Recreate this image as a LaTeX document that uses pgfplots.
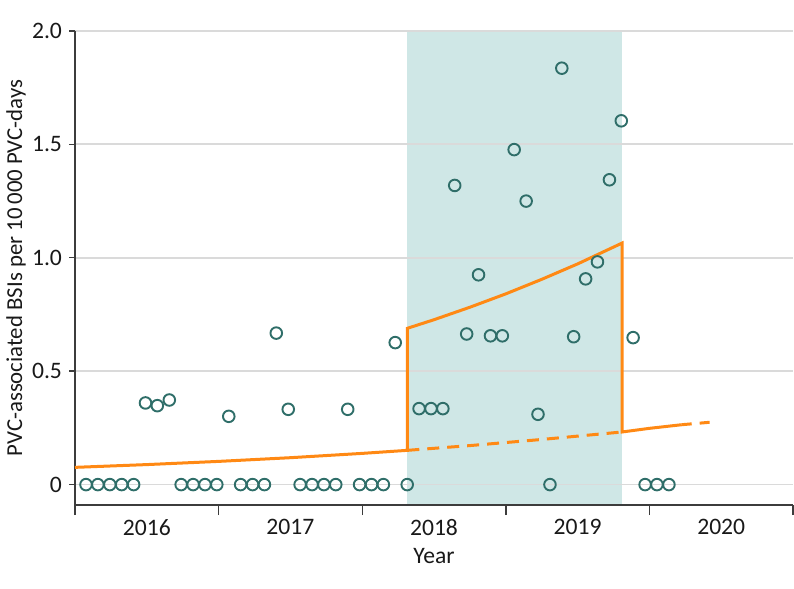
\documentclass[border=0pt]{standalone}
\usepackage{pgfplots}
\pgfplotsset{compat=1.18}
\usepackage{fontspec}
\setmainfont{Carlito}
\usetikzlibrary{calc}
\definecolor{shade}{RGB}{207,231,230}
\definecolor{teal}{RGB}{47,110,105}
\definecolor{orng}{RGB}{255,137,20}
\definecolor{gridc}{RGB}{218,218,218}
\definecolor{axc}{RGB}{60,60,60}
\begin{document}
\begin{tikzpicture}
\begin{axis}[
  set layers,
  scale only axis,
  width=359pt, height=237pt,
  xmin=0, xmax=60, ymin=-0.09, ymax=2.0,
  axis x line=bottom, axis y line=left,
  axis line style={-, draw=axc, line width=0.7pt},
  xtick={6,18,30,42,54},
  xticklabels={2016,2017,2018,2019,2020},
  xtick style={draw=none},
  extra x ticks={0,12,24,36,48,60},
  extra x tick labels={},
  extra x tick style={major tick length=5pt, xtick style={draw=axc, line width=0.7pt}},
  major tick length=3pt,
  ytick={0,0.5,1,1.5,2},
  yticklabels={0,0.5,1.0,1.5,2.0},
  ytick style={draw=axc, line width=0.7pt},
  tick align=outside,
  ymajorgrids=true,
  grid style={draw=gridc, line width=0.9pt},
  /pgf/number format/assume math mode=true,
  tick label style={font=\fontsize{11.8}{14}\selectfont, text=black!90},
  xticklabel style={yshift=-0.5pt},
  xlabel={Year},
  ylabel={PVC-associated BSIs per 10\,000 PVC-days},
  label style={font=\fontsize{11.8}{14}\selectfont, text=black!90},
  xlabel style={yshift=8.5pt},
  ylabel style={at={(axis description cs:-0.082,0.5)}, anchor=center, font=\fontsize{11.4}{14}\selectfont},
  clip=false,
]
\addplot[on layer=axis background, fill=shade, draw=none] coordinates {(27.77,-0.09) (45.72,-0.09) (45.72,2.0) (27.77,2.0)} -- cycle;

% fitted lines
\addplot[orng, line width=1.5pt, line join=miter] coordinates {
(0,0.076) (6,0.0882) (12,0.1023) (18,0.1186) (24,0.1376) (27.77,0.151)
(27.77,0.689) (30,0.727) (33,0.782) (36,0.841) (39,0.905) (42,0.973) (45.72,1.065)
(45.72,0.232) (48,0.248) (50.7,0.264)};
\addplot[orng, line width=1.5pt, dash pattern=on 6pt off 4pt] coordinates {
(27.77,0.151) (33,0.172) (39,0.199) (45.72,0.232)};
\addplot[orng, line width=1.5pt, dash pattern=on 5pt off 4pt] coordinates {
(50.7,0.264) (53.3,0.276)};

\addplot[only marks, mark=o, mark size=2.9pt, mark options={draw=teal, line width=0.95pt}] coordinates {
(0.92,0) (1.91,0) (2.91,0) (3.90,0) (4.90,0) (5.89,0.36) (6.88,0.348) (7.88,0.373)
(8.87,0) (9.87,0) (10.86,0) (11.85,0) (12.85,0.301) (13.84,0) (14.84,0) (15.83,0)
(16.82,0.668) (17.82,0.332) (18.81,0) (19.81,0) (20.80,0) (21.79,0) (22.79,0.332)
(23.78,0) (24.78,0) (25.77,0) (26.76,0.626) (27.76,0) (28.75,0.335) (29.75,0.335)
(30.74,0.335) (31.73,1.319) (32.73,0.664) (33.72,0.925) (34.72,0.656) (35.71,0.656)
(36.70,1.477) (37.70,1.25) (38.69,0.31) (39.69,0) (40.68,1.836) (41.67,0.652)
(42.67,0.907) (43.66,0.982) (44.66,1.344) (45.65,1.604) (46.64,0.648) (47.64,0)
(48.63,0) (49.63,0)};
\end{axis}
\pgfresetboundingbox
\path ($(current axis.south west)+(-37.5pt,-41.5pt)$) rectangle ($(current axis.north east)+(0.5pt,15.5pt)$);
\end{tikzpicture}
\end{document}
